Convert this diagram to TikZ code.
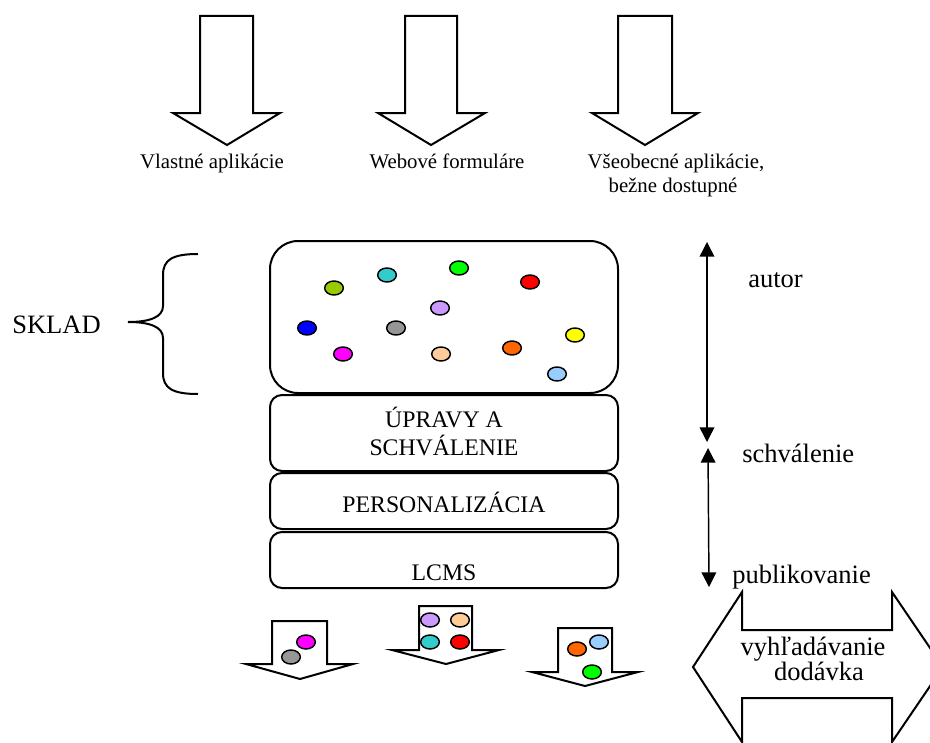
\documentclass[tikz,border=0pt]{standalone}
\usepackage{fontspec}
\setmainfont{Liberation Serif}
\usetikzlibrary{shapes.geometric,arrows.meta}

\begin{document}
\begin{tikzpicture}[x=0.75pt,y=-0.75pt,
  blockarrow/.style={draw=black,line width=1.5pt,fill=white,line join=miter},
  stackbox/.style={draw=black,line width=1.5pt,rounded corners=9pt,minimum width=261pt,inner sep=0pt},
  dot/.style={ellipse,draw=black,line width=1.1pt,minimum width=14pt,minimum height=10.5pt,inner sep=0pt},
  smalltext/.style={font=\fontsize{15.6pt}{18pt}\selectfont,inner sep=0pt},
  boxtext/.style={font=\fontsize{17.8pt}{21pt}\selectfont,inner sep=0pt},
  bigtext/.style={font=\fontsize{19.9pt}{24pt}\selectfont,inner sep=0pt},
  spanline/.style={line width=1.1pt},
  tip/.tip={Triangle[length=11pt,width=11pt]}]
\useasboundingbox (0,0) rectangle (930,742);

\definecolor{cOlive}{HTML}{99CC00}
\definecolor{cTeal}{HTML}{33CCCC}
\definecolor{cGreen}{HTML}{00FF00}
\definecolor{cRed}{HTML}{FF0000}
\definecolor{cLav}{HTML}{CC99FF}
\definecolor{cBlue}{HTML}{0000FF}
\definecolor{cGray}{HTML}{969696}
\definecolor{cYellow}{HTML}{FFFF00}
\definecolor{cMag}{HTML}{FF00FF}
\definecolor{cPeach}{HTML}{FFCC99}
\definecolor{cOrange}{HTML}{FF6600}
\definecolor{cSky}{HTML}{99CCFF}

% input arrows
\draw[blockarrow] (200,16) -- (253,16) -- (253,113) -- (280,113) -- (227,145) -- (173,113) -- (200,113) -- cycle;
\draw[blockarrow] (405,16) -- (457,16) -- (457,113) -- (485,113) -- (431,145) -- (378,113) -- (405,113) -- cycle;
\draw[blockarrow] (618,16) -- (672,16) -- (672,113) -- (698,113) -- (645,145) -- (592,113) -- (618,113) -- cycle;

\node[smalltext,anchor=base] (in1) at (212,168) {Vlastné aplikácie};
\node[smalltext,anchor=base] (in2) at (447,168) {Webové formuláre};
\node[smalltext,anchor=base] (in3a) at (676,168) {Všeobecné aplikácie,};
\node[smalltext,anchor=base] (in3b) at (673,192) {bežne dostupné};

% layered stack
\node[stackbox,rounded corners=21pt,minimum height=114pt] (sklad) at (444,317) {};
\node[stackbox,minimum height=57pt] (upravy) at (444,433) {};
\node[stackbox,minimum height=42pt] (pers) at (444,501) {};
\node[stackbox,minimum height=42pt] (lcms) at (444,560) {};

\node[boxtext,anchor=base] (t1) at (444,427) {ÚPRAVY A};
\node[boxtext,anchor=base] (t2) at (444,455) {SCHVÁLENIE};
\node[boxtext,anchor=base] (t3) at (444,512) {PERSONALIZÁCIA};
\node[boxtext,anchor=base] (t4) at (444,580) {LCMS};

% content items in the repository
\node[dot,fill=cOlive] (d1) at (334,288) {};
\node[dot,fill=cTeal] (d2) at (387,275) {};
\node[dot,fill=cGreen] (d3) at (459,268) {};
\node[dot,fill=cRed] (d4) at (530,282) {};
\node[dot,fill=cLav] (d5) at (440,308) {};
\node[dot,fill=cBlue] (d6) at (307,328) {};
\node[dot,fill=cGray] (d7) at (396,328) {};
\node[dot,fill=cYellow] (d8) at (575,335) {};
\node[dot,fill=cMag] (d9) at (343,354) {};
\node[dot,fill=cPeach] (d10) at (441,354) {};
\node[dot,fill=cOrange] (d11) at (512,348) {};
\node[dot,fill=cSky] (d12) at (557,374) {};

% brace and label
\node[bigtext,anchor=base west] (skladlbl) at (12,333) {SKLAD};
\coordinate (bt) at (198,254);
\coordinate (bb) at (198,394);
\draw[line width=1.5pt] (bt) .. controls (172,254) and (163,260) .. (163,275) -- (163,306)
  .. controls (163,317) and (150,322) .. (128,322)
  .. controls (150,322) and (163,327) .. (163,338) -- (163,373)
  .. controls (163,388) and (172,394) .. (bb);

% workflow stages
\coordinate (s0) at (707,242);
\coordinate (s1) at (707,442);
\coordinate (s2) at (708,448);
\coordinate (s3) at (709,587);
\draw[spanline,tip-tip] (s0) -- (s1);
\draw[spanline,tip-tip] (s2) -- (s3);
\node[bigtext,anchor=base west] (autor) at (748,287) {autor};
\node[bigtext,anchor=base west] (schv) at (742,462) {schválenie};
\node[bigtext,anchor=base west] (publ) at (732,583) {publikovanie};

% output arrows
\draw[blockarrow] (272,621) -- (327,621) -- (327,664) -- (353,664) -- (300,679) -- (246,664) -- (272,664) -- cycle;
\draw[blockarrow] (419,606) -- (472,606) -- (472,650) -- (499,650) -- (446,664) -- (392,650) -- (419,650) -- cycle;
\draw[blockarrow] (558,628) -- (612,628) -- (612,672) -- (638,672) -- (585,686) -- (532,672) -- (558,672) -- cycle;

\node[dot,fill=cMag] (o1) at (306,642) {};
\node[dot,fill=cGray] (o2) at (291,657) {};
\node[dot,fill=cLav] (o3) at (430,620) {};
\node[dot,fill=cPeach] (o4) at (460,620) {};
\node[dot,fill=cTeal] (o5) at (430,642) {};
\node[dot,fill=cRed] (o6) at (460,642) {};
\node[dot,fill=cOrange] (o7) at (577,649) {};
\node[dot,fill=cSky] (o8) at (599,642) {};
\node[dot,fill=cGreen] (o9) at (592,672) {};

% search / delivery double arrow
\draw[blockarrow] (742,630) -- (892,630) -- (892,592) -- (943,667) -- (892,742) -- (892,698)
  -- (742,698) -- (742,742) -- (693,667) -- (742,592) -- cycle;
\node[bigtext,anchor=base] (vyh) at (813,655) {vyhľadávanie};
\node[bigtext,anchor=base] (dod) at (819,680) {dodávka};
\end{tikzpicture}
\end{document}
